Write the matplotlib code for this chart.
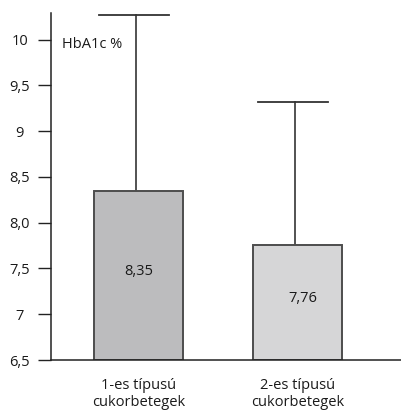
import matplotlib
matplotlib.use("Agg")
import matplotlib.pyplot as plt

categories = ["1-es típusú\ncukorbetegek", "2-es típusú\ncukorbetegek"]
means = [8.35, 7.76]
upper = [10.27, 9.32]
bar_labels = ["8,35", "7,76"]
yticks = [6.5, 7.0, 7.5, 8.0, 8.5, 9.0, 9.5, 10.0]
ytick_labels = ["6,5", "7", "7,5", "8,0", "8,5", "9", "9,5", "10"]
bar_colors = ["#bcbcbe", "#d6d6d7"]

plt.rcParams['font.family'] = ['Open Sans', 'DejaVu Sans']
txt = "#1a1a1a"

fig = plt.figure(figsize=(4.01, 4.12), dpi=100)
ax = fig.add_axes([51/401, 52/412, 350/401, 347/412])

base = 6.5
x = list(range(len(categories)))
heights = [m - base for m in means]
ax.bar(x, heights, bottom=base, width=0.56, color=bar_colors,
       edgecolor="#4d4d4d", linewidth=1.4, zorder=2)
for xi, m, u in zip(x, means, upper):
    ax.plot([xi - 0.02, xi - 0.02], [m, u], color="#444444", lw=1.3, zorder=1)
    ax.plot([xi - 0.25, xi + 0.19], [u, u], color="#333333", lw=1.3, zorder=1)
for xi, m, lab in zip(x, means, bar_labels):
    ax.text(xi + (0.03 if xi else 0), (m + base) / 2 + 0.04, lab,
            ha="center", va="center", fontsize=10.5, color=txt)

ax.set_xlim(-0.553, 1.648)
ax.set_ylim(6.5, 10.29)
ax.set_yticks(yticks)
ax.set_yticklabels(ytick_labels, fontsize=10.5, color=txt)
for t in ax.get_yticklabels():
    t.set_horizontalalignment("center")
ax.tick_params(axis="y", direction="out", length=9.4, width=1.0,
               color="#222222", pad=13)
ax.set_xticks(x)
ax.set_xticklabels(categories, fontsize=10.5, color=txt, linespacing=1.15)
ax.tick_params(axis="x", length=0, pad=13)

for s in ["top", "right"]:
    ax.spines[s].set_visible(False)
for s in ["left", "bottom"]:
    ax.spines[s].set_color("#222222")
    ax.spines[s].set_linewidth(1.1)

ax.text(-0.485, 9.95, "HbA1c %", ha="left", va="center", fontsize=10.5,
        color=txt)

fig.savefig("out.png", dpi=100)
